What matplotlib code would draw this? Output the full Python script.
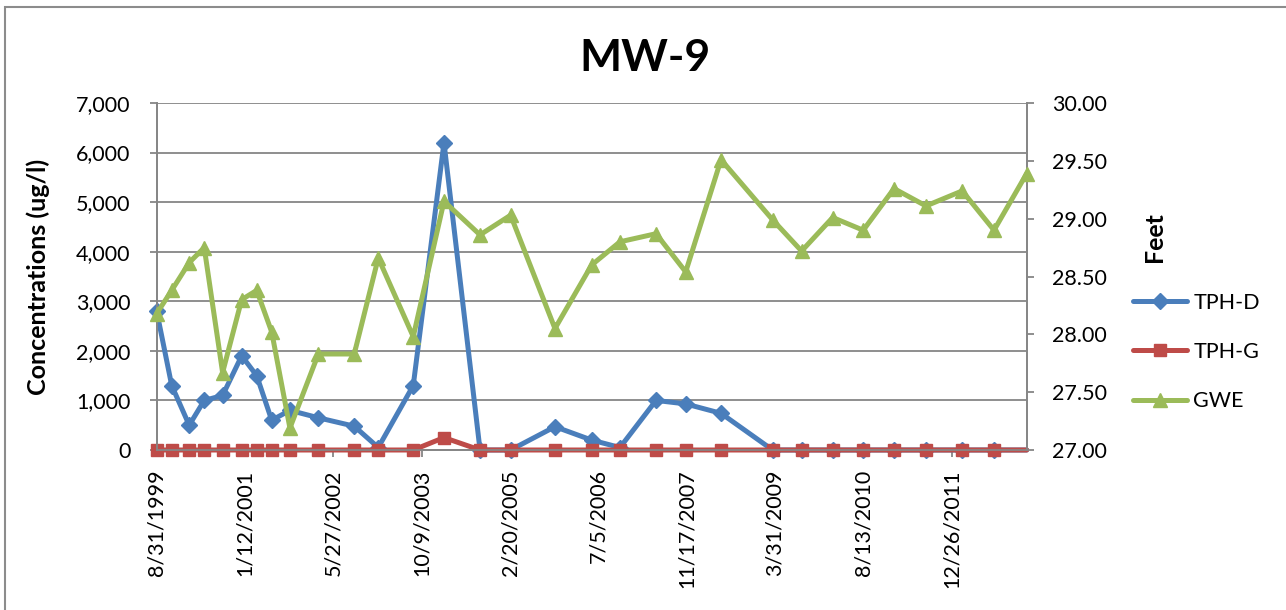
import numpy as np
import pandas as pd
import matplotlib
matplotlib.use("Agg")
import matplotlib.pyplot as plt
import matplotlib.dates as mdates
from matplotlib.ticker import FuncFormatter, StrMethodFormatter
from matplotlib.patches import Rectangle

plt.rcParams['font.family'] = ['Lato', 'DejaVu Sans']

# sample dates
dates = ["1999-08-31", "1999-11-24", "2000-03-02", "2000-05-26", "2000-09-07",
         "2000-12-24", "2001-03-19", "2001-06-12", "2001-09-23", "2002-03-03",
         "2002-09-22", "2003-02-05", "2003-08-22", "2004-02-12", "2004-09-03",
         "2005-02-23", "2005-11-01", "2006-05-28", "2006-11-04", "2007-05-27",
         "2007-11-11", "2008-05-29", "2009-03-17", "2009-08-28", "2010-02-20",
         "2010-08-12", "2011-02-02", "2011-08-02", "2012-02-23", "2012-08-21",
         "2013-02-22"]

tph_d = [2800, 1300, 500, 1000, 1100, 1900, 1500, 600, 800, 650,
         480, 50, 1300, 6200, 0, 0, 470, 200, 50, 1000,
         930, 740, 0, 0, 0, 0, 0, 0, 0, 0, 0]

tph_g = [0, 0, 0, 0, 0, 0, 0, 0, 0, 0,
         0, 0, 0, 250, 0, 0, 0, 0, 0, 0,
         0, 0, 0, 0, 0, 0, 0, 0, 0, 0, 0]

gwe = [28.18, 28.38, 28.62, 28.75, 27.67, 28.30, 28.38, 28.02, 27.19, 27.83,
       27.83, 28.66, 27.98, 29.15, 28.86, 29.03, 28.05, 28.60, 28.80, 28.87,
       28.54, 29.51, 28.99, 28.72, 29.01, 28.90, 29.26, 29.11, 29.24, 28.90,
       29.39]

x = pd.to_datetime(dates)

W, H = 1286, 610
fig = plt.figure(figsize=(W / 100, H / 100), dpi=100)
ax = fig.add_axes([156.7 / W, 1 - 450 / H, (1026.7 - 156.7) / W, (450 - 103) / H])
ax2 = ax.twinx()

# chart frame (only top and left edges visible in the reference)
fig.patches.append(Rectangle((5 / W, -0.1), 1.2, 1.1 - 7 / H, transform=fig.transFigure,
                             fill=False, edgecolor='#8c8c8c', linewidth=1.5))

grid_c = '#868686'
lw = 3.6
# last marker of the concentration series sits off the visible end in the original
l1, = ax.plot(x, tph_d, color='#4A7EBB', lw=lw, marker='D', ms=8, clip_on=False,
              markevery=slice(0, -1),
              solid_capstyle='round', solid_joinstyle='round', zorder=3)
l2, = ax.plot(x, tph_g, color='#BE4B48', lw=lw, marker='s', ms=8, clip_on=False,
              markevery=slice(0, -1),
              solid_capstyle='round', solid_joinstyle='round', zorder=4)
l3, = ax2.plot(x, gwe, color='#9BBB59', lw=lw, marker='^', ms=10, clip_on=False,
               solid_capstyle='round', solid_joinstyle='round', zorder=3)

ax.set_ylim(0, 7000)
ax.set_yticks(np.arange(0, 7001, 1000))
ax.yaxis.set_major_formatter(StrMethodFormatter('{x:,.0f}'))
ax2.set_ylim(27, 30)
ax2.set_yticks(np.arange(27, 30.01, 0.5))
ax2.yaxis.set_major_formatter(StrMethodFormatter('{x:.2f}'))

start = pd.Timestamp(dates[0])
ax.set_xlim(start, pd.Timestamp(dates[-1]))
ticks = pd.date_range(start, periods=10, freq='500D')
ax.set_xticks(ticks)
ax.xaxis.set_major_formatter(FuncFormatter(
    lambda v, p: (lambda d: f"{d.month}/{d.day}/{d.year}")(mdates.num2date(v))))

ax.grid(axis='y', color=grid_c, lw=1.3)
ax.set_axisbelow(True)
for a in (ax, ax2):
    a.spines['top'].set_visible(False)
    for s in ('left', 'right', 'bottom'):
        a.spines[s].set_color(grid_c)
        a.spines[s].set_linewidth(1.3)
ax.tick_params(axis='y', length=5, width=1.3, color=grid_c, pad=14, labelsize=15.5)
ax2.tick_params(axis='y', length=5, width=1.3, color=grid_c, pad=13, labelsize=15.5)
ax.tick_params(axis='x', length=5, width=1.3, color=grid_c, pad=9, labelsize=15.5,
               labelrotation=90)
for t in ax.get_xticklabels():
    t.set_va('top')
    t.set_ha('center')

fig.text(645 / W, 1 - 58 / H, "MW-9", fontsize=32, fontweight='bold',
         ha='center', va='center')
fig.text(38 / W, 1 - 277 / H, "Concentrations (ug/l)", fontsize=18,
         fontweight='bold', rotation=90, ha='center', va='center')
fig.text(1155 / W, 1 - 237 / H, "Feet", fontsize=18, fontweight='bold',
         rotation=90, ha='center', va='center')

fig.legend([l1, l2, l3], ["TPH-D", "TPH-G", "GWE"], loc='center left',
           bbox_to_anchor=(1133 / W, 1 - 352 / H), frameon=False, fontsize=15.5,
           handlelength=2.5, handletextpad=0.3, labelspacing=1.35,
           borderpad=0, borderaxespad=0)

fig.savefig("out.png", dpi=100)
